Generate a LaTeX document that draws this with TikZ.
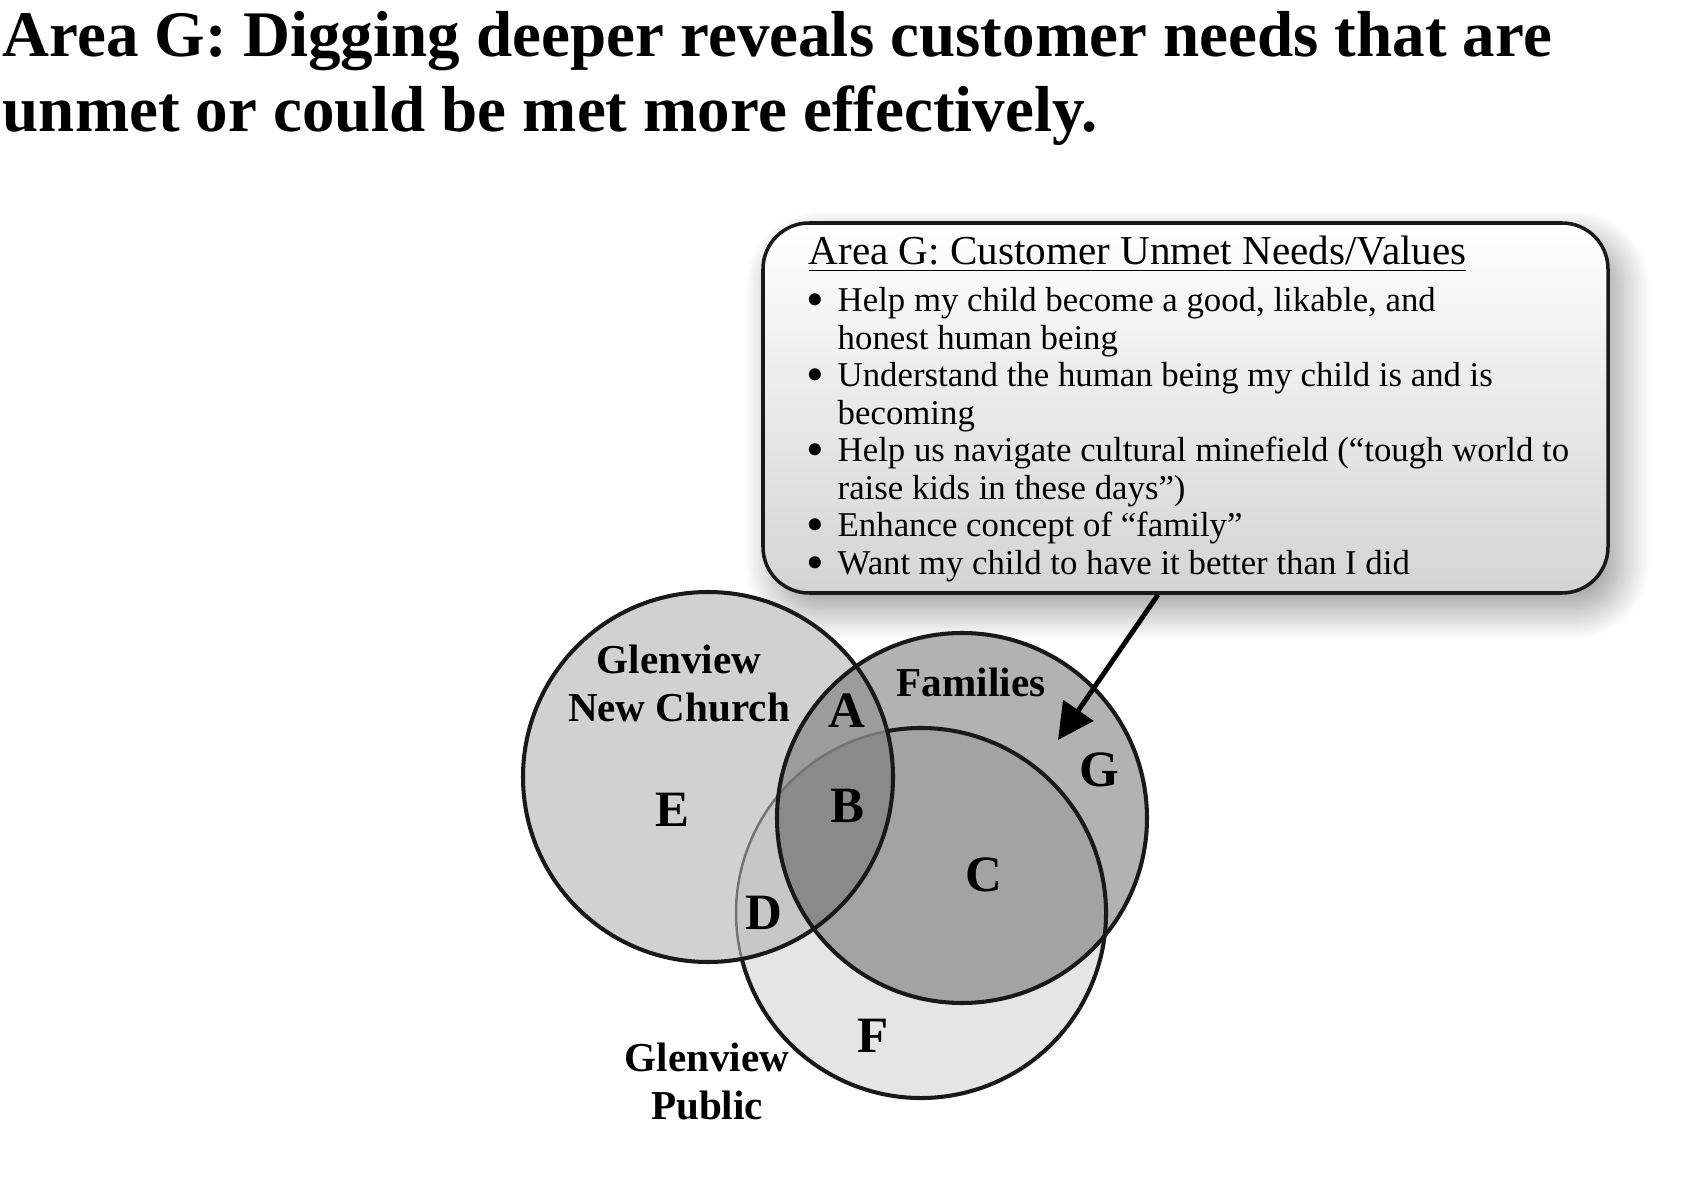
\documentclass[tikz,border=0pt]{standalone}
\usepackage{fontspec}
\usepackage{graphicx}
\setmainfont{Liberation Serif}
\usetikzlibrary{arrows.meta,shadows.blur}

\colorlet{RegionE}{black!18}
\colorlet{RegionG}{black!30}
\colorlet{RegionF}{black!10}
\colorlet{RegionA}{black!39}
\colorlet{RegionB}{black!46}
\colorlet{RegionC}{black!36}
\colorlet{RegionD}{black!22}
\colorlet{OutlineInner}{black!55}

\newcommand{\SetRadius}{1.85}
\newcommand{\NeedBullet}{\raisebox{-1.4pt}[0pt][0pt]{\scalebox{1.45}{\textbullet}}}

\tikzset{
    outline/.style={draw=black!90, line width=1.15pt},
    innerline/.style={draw=OutlineInner, line width=0.7pt},
    titletext/.style={anchor=base west, inner sep=0pt, font=\fontsize{18.5}{21.3}\selectfont\bfseries},
    setlabel/.style={align=center, anchor=north, inner sep=0pt, font=\fontsize{11.7}{13.7}\selectfont\bfseries},
    arealetter/.style={anchor=base, inner sep=0pt, font=\fontsize{14.5}{17}\selectfont\bfseries},
    calloutbox/.style={rounded corners=0.46cm, draw=black!90, line width=1pt,
        top color=white, bottom color=black!17,
        minimum width=8.45cm, minimum height=3.70cm,
        blur shadow={shadow xshift=0.12cm, shadow yshift=-0.17cm, shadow blur radius=0.3cm,
            shadow blur steps=20, shadow opacity=40}},
    pointer/.style={line width=1.4pt, -{Triangle[length=0.36cm, width=0.36cm]}},
}

\begin{document}
\begin{tikzpicture}

    \useasboundingbox (0, 0) rectangle (16.85, 11.80);

    \node[titletext] (titleA) at (0.02, 11.23) {Area G: Digging deeper reveals customer needs that are};
    \node[titletext] (titleB) at (0.02, 10.48) {unmet or could be met more effectively.};

    \node[calloutbox] (needsbox) at (11.855, 7.72) {};
    \node[anchor=base west, inner sep=0pt, font=\fontsize{11.7}{13.7}\selectfont] (needshead) at (8.08, 9.15)
        {\underline{Area G: Customer Unmet Needs/Values}};
    \node[anchor=base west, inner sep=0pt, font=\fontsize{9.9}{10.67}\selectfont] (needslist) at (8.06, 8.68)
        {\begin{tabular}[t]{@{}p{0.31cm}@{}l@{}}
        \NeedBullet & Help my child become a good, likable, and\\
                    & honest human being\\
        \NeedBullet & Understand the human being my child is and is\\
                    & becoming\\
        \NeedBullet & Help us navigate cultural minefield (“tough world to\\
                    & raise kids in these days”)\\
        \NeedBullet & Enhance concept of “family”\\
        \NeedBullet & Want my child to have it better than I did
        \end{tabular}};

    \coordinate (Church) at (7.08, 4.03);
    \coordinate (Families) at (9.62, 3.62);
    \coordinate (Public) at (9.21, 2.67);

    \fill[RegionF] (Public) circle (\SetRadius);
    \fill[RegionE] (Church) circle (\SetRadius);
    \fill[RegionG] (Families) circle (\SetRadius);
    \begin{scope}
        \clip (Public) circle (\SetRadius);
        \fill[RegionD] (Church) circle (\SetRadius);
        \fill[RegionC] (Families) circle (\SetRadius);
    \end{scope}
    \begin{scope}
        \clip (Church) circle (\SetRadius);
        \fill[RegionA] (Families) circle (\SetRadius);
        \clip (Public) circle (\SetRadius);
        \fill[RegionB] (Families) circle (\SetRadius);
    \end{scope}

    \draw[outline] (Public) ++(194.4:\SetRadius) arc[start angle=194.4, end angle=460.5, radius=\SetRadius];
    \draw[innerline] (Public) ++(100.5:\SetRadius) arc[start angle=100.5, end angle=194.4, radius=\SetRadius];
    \draw[outline] (Church) circle (\SetRadius);
    \draw[outline] (Families) circle (\SetRadius);

    \node[setlabel] (churchlabel) at (6.79, 5.36) {Glenview\\New Church};
    \node[setlabel] (publiclabel) at (7.07, 1.38) {Glenview\\Public};
    \node[anchor=base, inner sep=0pt, font=\fontsize{11.7}{13.7}\selectfont\bfseries] (familieslabel) at (9.71, 4.83) {Families};

    \node[arealetter] (areaA) at (8.47, 4.52) {A};
    \node[arealetter] (areaB) at (8.47, 3.57) {B};
    \node[arealetter] (areaC) at (9.84, 2.88) {C};
    \node[arealetter] (areaD) at (7.64, 2.50) {D};
    \node[arealetter] (areaE) at (6.72, 3.54) {E};
    \node[arealetter] (areaF) at (8.73, 1.27) {F};
    \node[arealetter] (areaG) at (10.99, 3.93) {G};

    \coordinate (gtip) at (10.58, 4.40);
    \draw[pointer] ([xshift=-0.275cm]needsbox.south) -- (gtip);
\end{tikzpicture}
\end{document}
